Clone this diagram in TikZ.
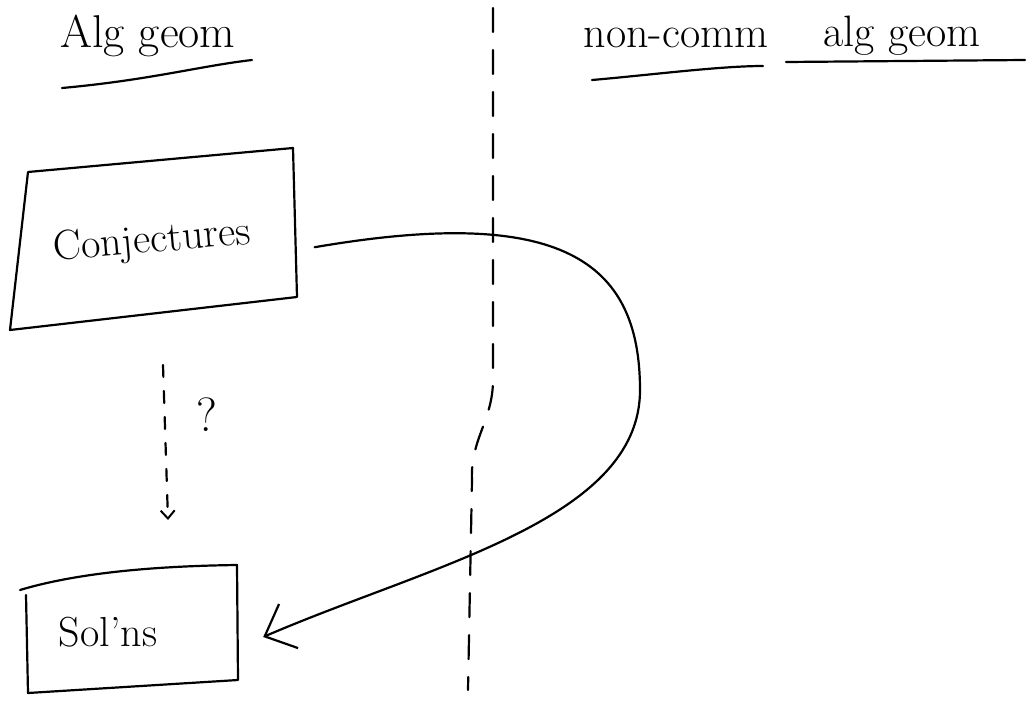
\documentclass[tikz,border=0pt]{standalone}
\usetikzlibrary{arrows.meta}
\begin{document}
\begin{tikzpicture}[x=1pt,y=-1pt,
  ink/.style={line width=2.2pt, line cap=round, line join=round, black},
  hand/.style={font=\fontsize{42}{46}\selectfont, inner sep=0pt},
  bigtip/.style={-{Straight Barb[length=26pt,width=48pt,line width=2.2pt]}},
  smalltip/.style={-{Straight Barb[length=8pt,width=14pt,line width=2pt]}},
  divider/.style={ink, dash pattern=on 24pt off 18pt}]
\useasboundingbox (0,0) rectangle (1029,704);
% headings
\node[hand, font=\fontsize{46}{50}\selectfont] (alg) at (148,36) {Alg geom};
\node[hand, font=\fontsize{44}{48}\selectfont] (nc) at (676,38) {non-comm};
\node[hand, font=\fontsize{44}{48}\selectfont] (ag) at (902,36) {alg geom};
\draw[ink] (62,88) .. controls (150,80) and (200,66) .. (252,60);
\draw[ink] (592,80) .. controls (650,75) and (720,66) .. (763,66);
\draw[ink] (786,62) -- (1025,60);
% divider
\draw[divider] (493,8) -- (493,380) .. controls (493,420) and (470,440) .. (472,480) -- (468,690);
% Conjectures box
\node[hand, rotate=5, minimum width=270pt, minimum height=150pt] (conj) at (152,242) {Conjectures};
\draw[ink] (28,172) -- (293,148) -- (297,297) -- (10,330) -- cycle;
% Sol'ns box
\node[hand, minimum width=220pt, minimum height=110pt] (sol) at (108,632) {Sol'ns};
\draw[ink] (20,590) .. controls (80,572) and (160,566) .. (237,565) -- (238,680) -- (28,693) -- (26,595);
% question label
\node[hand, font=\fontsize{48}{52}\selectfont] (q) at (207,415) {?};
% connectors
\draw[ink, smalltip, dash pattern=on 12pt off 14pt] (163,365) coordinate (d0) -- (168,520) coordinate (d1);
\draw[ink, bigtip] ([xshift=28pt,yshift=-17pt]conj.east) .. controls (560,205) and (640,260) .. (640,390) .. controls (640,520) and (430,565) .. ([xshift=45pt,yshift=-5pt]sol.east);
\end{tikzpicture}
\end{document}
